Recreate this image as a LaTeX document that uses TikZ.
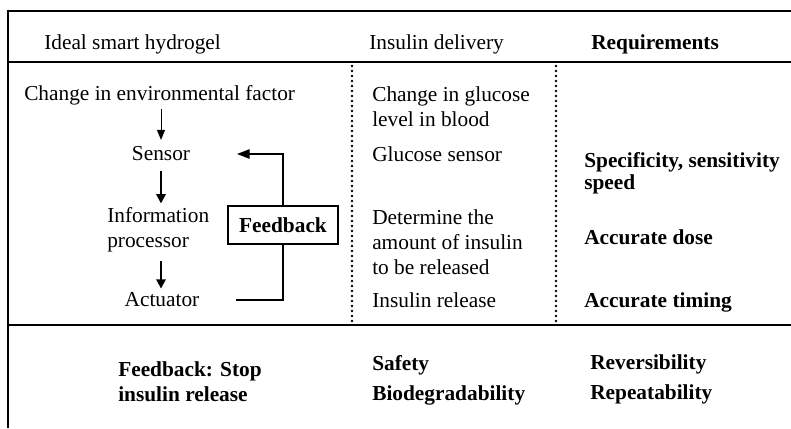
\documentclass[tikz,border=0pt]{standalone}
\usepackage{fontspec}
\setmainfont{Liberation Serif}
\usetikzlibrary{arrows.meta, positioning}

\begin{document}
\begin{tikzpicture}[x=0.75pt, y=-0.75pt,
    txt/.style={inner sep=0pt, anchor=west, align=left, font=\fontsize{16}{18.75}\selectfont},
    bold/.style={txt, font=\fontsize{16}{18.75}\selectfont\bfseries},
    fbbox/.style={draw, line width=0.8pt, inner sep=0pt, minimum width=82.5pt, minimum height=28.5pt, font=\fontsize{16}{18.75}\selectfont\bfseries},
    thinarr/.style={draw, line width=0.75pt, -{Triangle[length=7.5pt, width=6pt]}},
    thickarr/.style={draw, line width=1.5pt, -{Triangle[length=7pt, width=7pt]}},
    loop/.style={draw, line width=1.1pt},
    dots/.style={line width=2pt, line cap=round, dash pattern=on 0pt off 3.75pt}]

    \useasboundingbox (0,0) rectangle (791,428);

    % table rules
    \draw[line width=1pt] (791,11) -- (8,11) -- (8,428);
    \draw[line width=1.6pt] (8,62) -- (791,62);
    \draw[line width=1.6pt] (8,325) -- (791,325);
    \draw[dots] (352,66) -- (352,325);
    \draw[dots] (556,66) -- (556,325);

    % headers
    \node [txt] (hgel) at (44,44) {Ideal smart hydrogel};
    \node [txt] (hins) at (369,44) {Insulin delivery};
    \node [bold] (hreq) at (591,44) {Requirements};

    % left column
    \node [txt] (chg) at (24,95) {Change in environmental\ factor};
    \node [txt, anchor=center] (sens) at (161,154) {Sensor};
    \node [txt] (info) at (107,229.5) {Information\\processor};
    \node [txt, anchor=center] (act) at (162,300) {Actuator};
    \node [fbbox] (fb) at (283,225) {Feedback};

    % middle column
    \node [txt] (glc) at (372,107) {Change in glucose\\level in blood};
    \node [txt] (gsens) at (372,154) {Glucose sensor};
    \node [txt] (dose) at (372,242.5) {Determine the\\amount of insulin\\to be released};
    \node [txt] (rel) at (372,300) {Insulin release};

    % right column
    \node [bold] (spec) at (584,173.5) {Specificity, sensitivity\\[-2.25pt]speed};
    \node [bold] (acdose) at (584,237) {Accurate dose};
    \node [bold] (actime) at (584,302) {Accurate timing};

    % bottom row
    \node [bold] (stop) at (118,381.5) {Feedback: Stop\\insulin release};
    \node [bold] (safe) at (372,380.5) {Safety\\[3.75pt]Biodegradability};
    \node [bold] (rev) at (590,379) {Reversibility\\[3.75pt]Repeatability};

    \path [thinarr, shorten <=3.3pt, shorten >=5pt] (chg.south -| sens) -- (sens.north);
    \path [thickarr, shorten <=7.5pt, shorten >=2.6pt] (sens.south) -- (info.north -| sens);
    \path [thickarr, shorten <=7pt, shorten >=3pt] (info.south -| sens) -- (act.north -| sens);
    \path [loop, -{Triangle[length=9.5pt, width=7pt]}] (fb.north) |- ([xshift=35pt]sens.east);
    \path [loop] (fb.south) |- ([xshift=27pt]act.east);
\end{tikzpicture}
\end{document}
